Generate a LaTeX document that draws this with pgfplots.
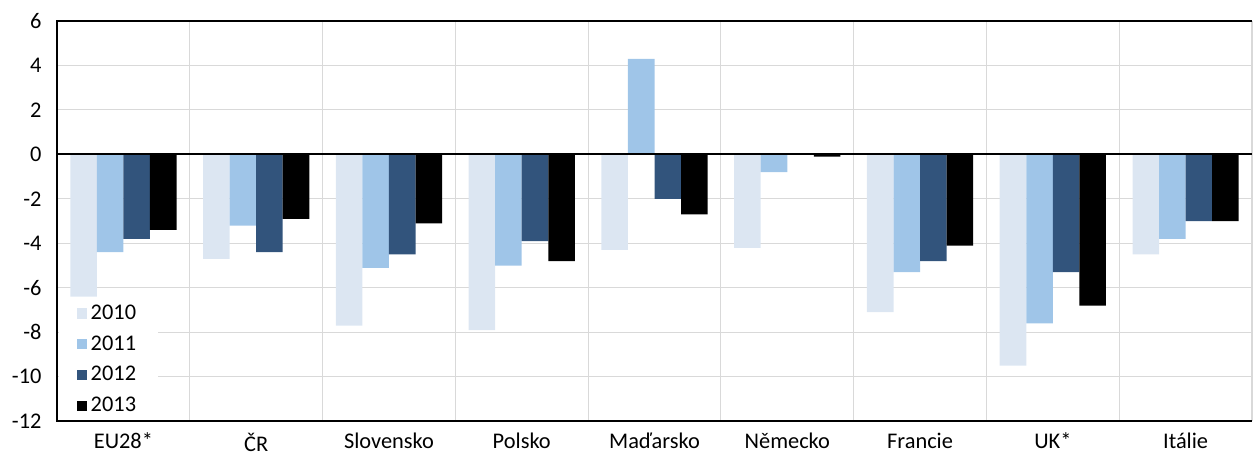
\documentclass[border=0pt]{standalone}
\usepackage{fontspec}
\setmainfont{Carlito}
\usepackage{pgfplots}
\pgfplotsset{compat=1.18}
\usepackage{pgfplotstable}

\definecolor{c2010}{HTML}{DCE6F2}
\definecolor{c2011}{HTML}{9FC5E8}
\definecolor{c2012}{HTML}{32547C}
\definecolor{c2013}{HTML}{000000}
\definecolor{gridgray}{HTML}{D9D9D9}

% x: 0 EU28*, 1 CR, 2 Slovensko, 3 Polsko, 4 Madarsko, 5 Nemecko, 6 Francie, 7 UK*, 8 Italie
\pgfplotstableread{
x  a2010 a2011 a2012 a2013
0  -6.4  -4.4  -3.8  -3.4
1  -4.7  -3.2  -4.4  -2.9
2  -7.7  -5.1  -4.5  -3.1
3  -7.9  -5.0  -3.9  -4.8
4  -4.3   4.3  -2.0  -2.7
5  -4.2  -0.8   0.0  -0.1
6  -7.1  -5.3  -4.8  -4.1
7  -9.5  -7.6  -5.3  -6.8
8  -4.5  -3.8  -3.0  -3.0
}\deficit

\begin{document}
\begin{tikzpicture}
\begin{axis}[
  name=ax,
  scale only axis,
  width=657pt, height=220pt,
  xmin=-0.5, xmax=8.5,
  ymin=-12, ymax=6,
  clip=false,
  ytick={-12,-10,...,6},
  yticklabels={-12,-10,-8,-6,-4,-2,0,2,4,6},
  xtick={0,...,8},
  xticklabels={EU28*,ČR,Slovensko,Polsko,Maďarsko,Německo,Francie,UK*,Itálie},
  minor xtick={-0.5,0.5,...,8.5},
  ymajorgrids, xminorgrids,
  major grid style={gridgray, line width=0.6pt},
  minor grid style={gridgray, line width=0.6pt},
  major tick length=0pt, minor tick length=0pt,
  axis line style={draw=none},
  tick label style={font=\fontsize{12.3}{14}\selectfont},
  yticklabel style={xshift=-5pt},
  xticklabel style={yshift=-3pt},
  ybar, bar width=0.2,
  legend style={at={(axis cs:-0.49,-11.95)}, anchor=south west,
    draw=none, fill=white, font=\fontsize{12.3}{14}\selectfont,
    row sep=3.4pt, inner xsep=10pt, inner ysep=1pt},
  legend cell align=left,
  legend image code/.code={\fill[#1] (0pt,-2.8pt) rectangle (5.6pt,2.8pt);},
]
\addplot[fill=c2010, draw=none, bar shift=-0.3] table[x=x,y=a2010]{\deficit};
\addplot[fill=c2011, draw=none, bar shift=-0.1] table[x=x,y=a2011]{\deficit};
\addplot[fill=c2012, draw=none, bar shift=0.1] table[x=x,y=a2012]{\deficit};
\addplot[fill=c2013, draw=none, bar shift=0.3] table[x=x,y=a2013]{\deficit};
\legend{2010,2011,2012,2013}
\draw[draw=black, line width=1.2pt] (axis cs:-0.5,0) -- (axis cs:8.5,0);
\draw[draw=black, line width=1.1pt] (axis cs:8.5,6) -- (axis cs:-0.5,6) -- (axis cs:-0.5,-12) -- (axis cs:8.5,-12);
\end{axis}
\pgfresetboundingbox
\path (ax.south west) ++(-31.35pt,-19.8pt) rectangle ([xshift=1.1pt,yshift=11.55pt]ax.north east);
\end{tikzpicture}
\end{document}
